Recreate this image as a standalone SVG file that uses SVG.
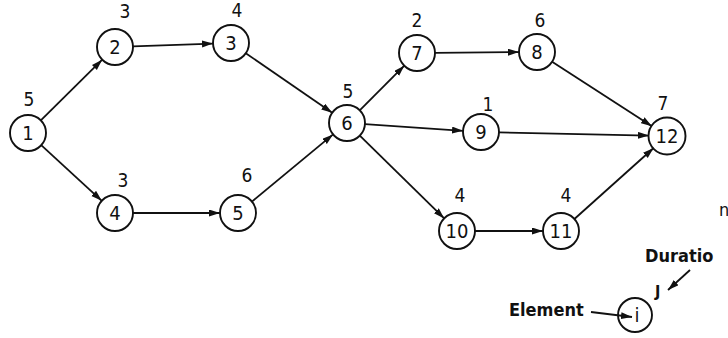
<svg xmlns="http://www.w3.org/2000/svg" width="728" height="338" viewBox="0 0 728 338">
<style>
.n circle{fill:#fff;stroke:#111;stroke-width:1.9}
.n text{font-family:"DejaVu Sans Condensed","DejaVu Sans",sans-serif;font-size:20px;fill:#111;text-anchor:middle}
.d{font-family:"DejaVu Sans Condensed","DejaVu Sans",sans-serif;font-size:19px;fill:#111;text-anchor:middle}
.e line{stroke:#111;stroke-width:1.8;marker-end:url(#ah)}
.lg{font-family:"DejaVu Sans Condensed","DejaVu Sans",sans-serif;font-size:18px;font-weight:600;fill:#111}
</style>
<defs>
<marker id="ah" markerUnits="userSpaceOnUse" markerWidth="12" markerHeight="8" refX="11" refY="3.5" orient="auto">
<path d="M0,0 L11,3.5 L0,7 z" fill="#111"/>
</marker>
</defs>
<rect width="728" height="338" fill="#fff"/>
<g id="node1" class="n"><circle cx="28" cy="133" r="18"/><text x="28" y="140">1</text></g>
<g id="node2" class="n"><circle cx="115" cy="47" r="18"/><text x="115" y="54">2</text></g>
<g id="node3" class="n"><circle cx="231" cy="43" r="18"/><text x="231" y="50">3</text></g>
<g id="node4" class="n"><circle cx="115" cy="213" r="18"/><text x="115" y="220">4</text></g>
<g id="node5" class="n"><circle cx="238" cy="213" r="18"/><text x="238" y="220">5</text></g>
<g id="node6" class="n"><circle cx="347" cy="123" r="18"/><text x="347" y="130">6</text></g>
<g id="node7" class="n"><circle cx="417" cy="53" r="18"/><text x="417" y="60">7</text></g>
<g id="node8" class="n"><circle cx="537" cy="52" r="18"/><text x="537" y="59">8</text></g>
<g id="node9" class="n"><circle cx="481" cy="132" r="18"/><text x="481" y="139">9</text></g>
<g id="node10" class="n"><circle cx="457" cy="231" r="18"/><text x="457" y="238">10</text></g>
<g id="node11" class="n"><circle cx="561" cy="231" r="18"/><text x="561" y="238">11</text></g>
<g id="node12" class="n"><circle cx="667" cy="136" r="18.5"/><text x="667" y="143">12</text></g>
<g id="legend-node" class="n"><circle cx="635" cy="315" r="17"/><text x="637" y="322">i</text></g>
<g id="connectors" class="e">
<line x1="40.8" y1="120.3" x2="102.2" y2="59.7"/>
<line x1="41.2" y1="145.2" x2="101.8" y2="200.8"/>
<line x1="133" y1="46.4" x2="213" y2="43.6"/>
<line x1="133" y1="213" x2="220" y2="213"/>
<line x1="245.8" y1="53.2" x2="332.2" y2="112.8"/>
<line x1="251.9" y1="201.6" x2="333.1" y2="134.4"/>
<line x1="359.7" y1="110.3" x2="404.3" y2="65.7"/>
<line x1="365" y1="124.2" x2="463" y2="130.8"/>
<line x1="359.8" y1="135.6" x2="444.2" y2="218.4"/>
<line x1="435" y1="52.9" x2="519" y2="52.1"/>
<line x1="499" y1="132.4" x2="649" y2="135.6"/>
<line x1="552.1" y1="61.8" x2="651.9" y2="126.2"/>
<line x1="475" y1="231" x2="543" y2="231"/>
<line x1="574.4" y1="219" x2="653.6" y2="148"/>
<line x1="591" y1="312" x2="632" y2="317"/>
<line x1="690" y1="270" x2="668" y2="290"/>
</g>
<g id="durations">
<text class="d" x="29" y="106">5</text>
<text class="d" x="125" y="18">3</text>
<text class="d" x="237" y="17">4</text>
<text class="d" x="348" y="98">5</text>
<text class="d" x="123" y="187">3</text>
<text class="d" x="247" y="182">6</text>
<text class="d" x="417" y="27">2</text>
<text class="d" x="540" y="27">6</text>
<text class="d" x="488" y="111">1</text>
<text class="d" x="663" y="110">7</text>
<text class="d" x="460" y="202">4</text>
<text class="d" x="566" y="202">4</text>
</g>
<g id="legend">
<text class="lg" x="645" y="262">Duratio</text>
<text class="lg" x="509" y="316">Element</text>
<text class="lg" x="655" y="297" style="font-size:16px">J</text>
<text class="lg" x="719" y="216" style="font-weight:normal">n</text>
</g>
</svg>
